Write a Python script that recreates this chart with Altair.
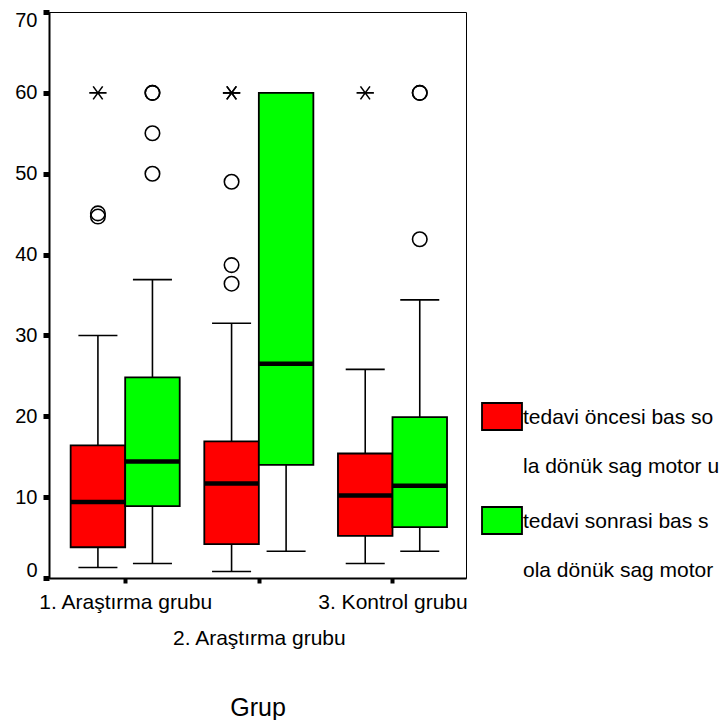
import altair as alt
import pandas as pd

groups = ["1. Araştırma grubu", "2. Araştırma grubu", "3. Kontrol grubu"]
series = ["tedavi öncesi bas sola dönük sag motor u", "tedavi sonrasi bas sola dönük sag motor"]
colors = ["#FF0000", "#00FF00"]

# values per group: [before (red), after (green)]
whisker_low = [[1.3, 1.8], [0.8, 3.3], [1.8, 3.3]]
q1 = [[3.8, 8.9], [4.2, 14.0], [5.2, 6.3]]
median = [[9.4, 14.4], [11.7, 26.5], [10.2, 11.4]]
q3 = [[16.4, 24.8], [16.9, 60.0], [15.4, 19.9]]
whisker_high = [[30.0, 36.9], [31.5, 60.0], [25.8, 34.4]]

outlier_group = [1, 1, 1, 1, 1, 1, 1, 2, 2, 2, 2, 2, 3, 3, 3, 3]
outlier_series = [0, 0, 0, 1, 1, 1, 1, 0, 0, 0, 0, 0, 0, 1, 1, 1]
outlier_value = [45.1, 44.7, 60, 60, 60, 55, 50, 49.0, 38.7, 36.4, 60, 60, 60, 60, 60, 41.9]
outlier_kind = ["o", "o", "*", "o", "o", "o", "o", "o", "o", "o", "*", "*", "*", "o", "o", "o"]

BW = 0.408   # box width in group units
CW = 0.146   # half cap width
FONT = "Arial, Liberation Sans, sans-serif"

rows = []
for gi, g in enumerate(groups):
    for si, s in enumerate(series):
        left = (gi + 1) - BW + si * BW
        center = left + BW / 2
        rows.append(dict(group=g, series=s, left=left, right=left + BW, center=center,
                         capl=center - CW, capr=center + CW,
                         low=whisker_low[gi][si], q1=q1[gi][si], median=median[gi][si],
                         q3=q3[gi][si], high=whisker_high[gi][si]))
box = pd.DataFrame(rows)

out_rows = []
for g, s, v, k in zip(outlier_group, outlier_series, outlier_value, outlier_kind):
    out_rows.append(dict(center=g - BW + s * BW + BW / 2, value=v, kind=k))
outs = pd.DataFrame(out_rows)

# legend table (SPSS shows the variable labels wrapped after 20 characters)
leg = pd.DataFrame(dict(series=series, idx=list(range(len(series))),
                        line1=[s[:20] for s in series], line2=[s[20:] for s in series]))

xscale = alt.Scale(domain=[0.43, 3.55], nice=False, zero=False)
yscale = alt.Scale(domain=[0, 70], nice=False, zero=False)
cscale = alt.Scale(domain=series, range=colors)

label_expr = "[" + ", ".join(
    ("['', '%s']" % g) if i == 1 else ("'%s'" % g) for i, g in enumerate(groups)
) + "][datum.value - 1]"

xaxis = alt.Axis(values=[1, 2, 3], labelExpr=label_expr, grid=False, tickSize=5, tickWidth=4,
                 tickColor="black", domainColor="black", domainWidth=2, labelFont=FONT,
                 labelFontSize=21, labelColor="black", labelPadding=8, labelLineHeight=36,
                 labelFlush=False, labelOverlap=False,
                 title="Grup", titleFont=FONT, titleFontSize=25, titleFontWeight="normal",
                 titleColor="black", titlePadding=47)
yaxis = alt.Axis(values=list(range(0, 71, 10)), grid=False, tickSize=6, tickWidth=5,
                 tickColor="black", domainColor="black", domainWidth=2, labelFont=FONT,
                 labelFontSize=20, labelColor="black", labelPadding=6,
                 labelFlush=True, labelFlushOffset=2, title=None)

base = alt.Chart(box)

whisk_lo = base.mark_rule(color="black", strokeWidth=1.6).encode(
    x=alt.X("center:Q", scale=xscale, axis=xaxis),
    y=alt.Y("low:Q", scale=yscale, axis=yaxis), y2="q1:Q")
whisk_hi = base.mark_rule(color="black", strokeWidth=1.6).encode(
    x=alt.X("center:Q", scale=xscale, axis=xaxis),
    y=alt.Y("q3:Q", scale=yscale, axis=yaxis), y2="high:Q")
cap_lo = base.mark_rule(color="black", strokeWidth=1.6).encode(
    x=alt.X("capl:Q", scale=xscale, axis=xaxis), x2="capr:Q",
    y=alt.Y("low:Q", scale=yscale, axis=yaxis))
cap_hi = base.mark_rule(color="black", strokeWidth=1.6).encode(
    x=alt.X("capl:Q", scale=xscale, axis=xaxis), x2="capr:Q",
    y=alt.Y("high:Q", scale=yscale, axis=yaxis))
boxes = base.mark_rect(stroke="black", strokeWidth=1.8).encode(
    x=alt.X("left:Q", scale=xscale, axis=xaxis), x2="right:Q",
    y=alt.Y("q1:Q", scale=yscale, axis=yaxis), y2="q3:Q",
    fill=alt.Fill("series:N", scale=cscale, legend=None))
medians = base.mark_rule(color="black", strokeWidth=4.5).encode(
    x=alt.X("left:Q", scale=xscale, axis=xaxis), x2="right:Q",
    y=alt.Y("median:Q", scale=yscale, axis=yaxis))

ochart = alt.Chart(outs)
circles = ochart.transform_filter("datum.kind == 'o'").mark_point(
    shape="circle", filled=False, size=210, color="black", strokeWidth=1.6, opacity=1).encode(
    x=alt.X("center:Q", scale=xscale, axis=xaxis),
    y=alt.Y("value:Q", scale=yscale, axis=yaxis))
stars = ochart.transform_filter("datum.kind == '*'").mark_point(
    shape="M-1,0L1,0M-0.55,-0.75L0.55,0.75M-0.55,0.75L0.55,-0.75", filled=False, size=300,
    color="black", strokeWidth=1.6, opacity=1).encode(
    x=alt.X("center:Q", scale=xscale, axis=xaxis),
    y=alt.Y("value:Q", scale=yscale, axis=yaxis))

# legend to the right of the plot: one swatch and a two-line label per series
legend_layers = []
for i in range(len(series)):
    lb = alt.Chart(leg).transform_filter(f"datum.idx == {i}")
    top = 391 + i * 104
    legend_layers.append(lb.mark_rect(stroke="black", strokeWidth=1.8).encode(
        x=alt.value(433), x2=alt.value(473), y=alt.value(top), y2=alt.value(top + 27),
        fill=alt.Fill("series:N", scale=cscale, legend=None)))
    legend_layers.append(lb.mark_text(align="left", baseline="middle", font=FONT, fontSize=21,
                                      color="black").encode(
        x=alt.value(474), y=alt.value(top + 15), text="line1:N"))
    legend_layers.append(lb.mark_text(align="left", baseline="middle", font=FONT, fontSize=21,
                                      color="black").encode(
        x=alt.value(474), y=alt.value(top + 64), text="line2:N"))

chart = alt.layer(whisk_lo, whisk_hi, cap_lo, cap_hi, boxes, medians, circles, stars,
                  *legend_layers).properties(
    width=417, height=566,
    autosize=alt.AutoSizeParams(type="none"),
    padding={"left": 41, "top": 4, "right": 254, "bottom": 142},
    background="white",
).configure_view(stroke="black", strokeWidth=1)

chart.save("out.html", embed_options={"renderer": "svg", "actions": False})
